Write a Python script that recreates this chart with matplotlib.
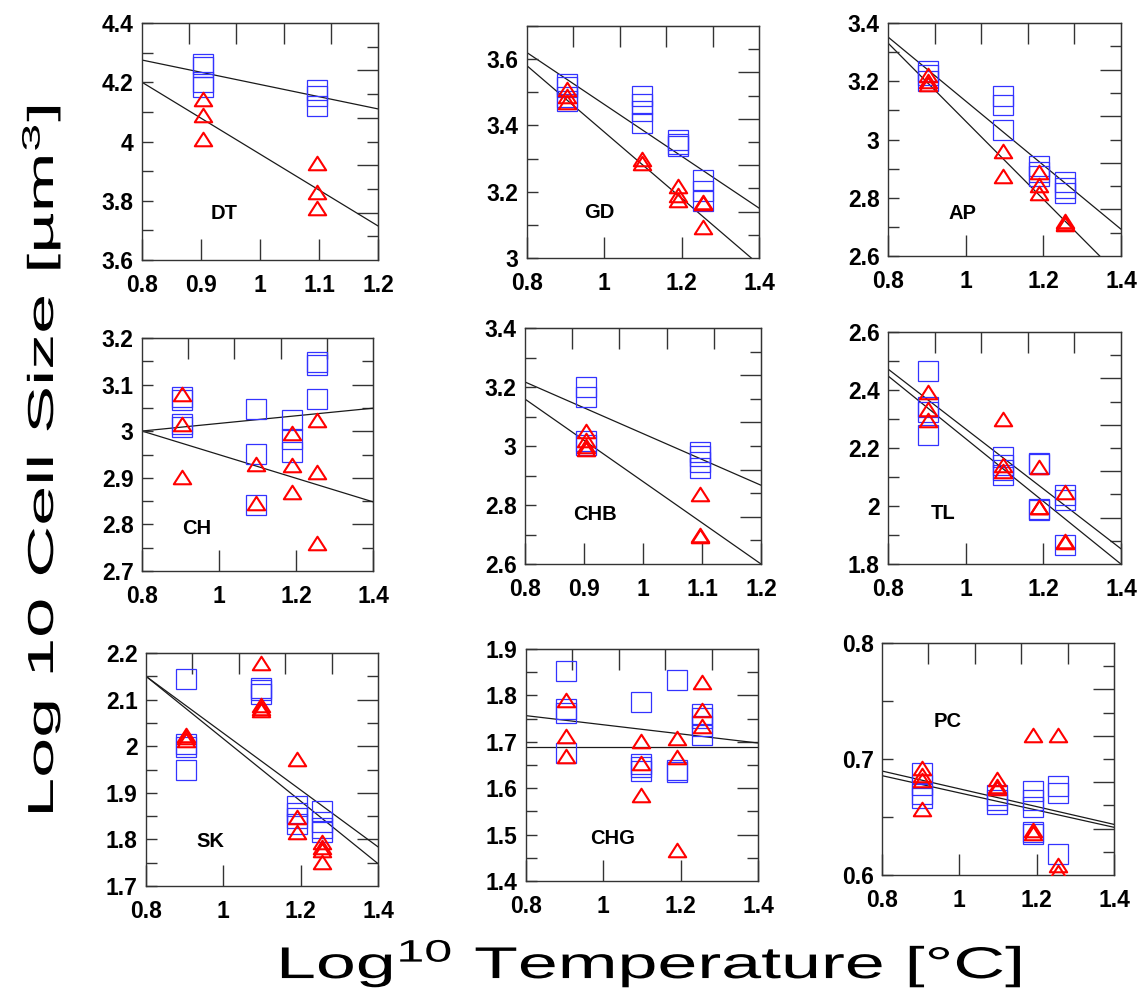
import numpy as np
import matplotlib
matplotlib.use('Agg')
import matplotlib.pyplot as plt
from matplotlib.path import Path
from matplotlib.transforms import Affine2D
from matplotlib.ticker import MultipleLocator, FuncFormatter
from matplotlib import patheffects

plt.rcParams['font.family'] = ['Liberation Sans', 'DejaVu Sans']
plt.rcParams['mathtext.default'] = 'regular'

# ---- data (x = log10 temperature) ----
x2 = [0.903, 1.097]
x4 = [0.903, 1.097, 1.19, 1.255]

dt_sq = [[4.26, 4.25, 4.2, 4.184], [4.175, 4.153, 4.119]]
dt_tri = [[4.142, 4.091, 4.007], [3.928, 3.829, 3.776]]
dt_fit = [(4.605, -0.4125), (5.17, -1.2125)]  # (intercept, slope)

gd_sq = [[3.526, 3.517, 3.487, 3.475], [3.49, 3.465, 3.445, 3.407],
         [3.357, 3.345, 3.337], [3.234, 3.201, 3.171]]
gd_tri = [[3.51, 3.49, 3.47], [3.30, 3.286], [3.216, 3.191, 3.176], [3.17, 3.165, 3.095]]
gd_fit = [(4.245, -0.7817), (4.38, -1.0)]

ap_sq = [[3.235, 3.22, 3.20], [3.15, 3.12, 3.033], [2.91, 2.89, 2.875], [2.855, 2.835, 2.815]]
ap_tri = [[3.22, 3.20, 3.19], [2.959, 2.873], [2.89, 2.845, 2.815], [2.72, 2.715, 2.71]]
ap_fit = [(4.232, -1.1), (4.404, -1.341)]

ch_sq = [[3.074, 3.068, 3.015, 3.01], [3.047, 2.951, 2.841], [3.025, 2.983, 2.955], [3.148, 3.141, 3.069]]
ch_tri = [[3.08, 3.016, 2.902], [2.93, 2.846], [2.996, 2.928, 2.869], [3.024, 2.913, 2.760]]
ch_fit = [(2.935, 0.0817), (3.203, -0.2533)]

chb_sq = [[3.199, 3.165, 3.016, 3.005], [2.979, 2.967, 2.945, 2.924]]
chb_tri = [[3.05, 3.02, 3.0, 2.99], [2.837, 2.70, 2.695]]
chb_fit = [(3.917, -0.875), (4.277, -1.3975)]

tl_sq = [[2.466, 2.34, 2.325, 2.245], [2.17, 2.14, 2.125, 2.107],
         [2.15, 2.145, 1.99, 1.985], [2.038, 2.02, 1.866]]
tl_tri = [[2.394, 2.333, 2.296], [2.299, 2.142, 2.119], [2.136, 1.998, 1.995], [2.05, 1.878, 1.875]]
tl_fit = [(3.299, -1.0333), (3.314, -1.0817)]

sk_sq = [[2.144, 2.005, 1.998, 1.95], [2.125, 2.12, 2.113],
         [1.871, 1.857, 1.845, 1.834], [1.861, 1.838, 1.825, 1.815]]
sk_tri = [[2.024, 2.019, 2.013], [2.178, 2.089, 2.082, 2.078],
          [1.972, 1.849, 1.815], [1.795, 1.784, 1.777, 1.752]]
sk_fit = [(2.638, -0.61), (2.686, -0.67)]

chg_sq = [[1.852, 1.77, 1.762, 1.676], [1.786, 1.652, 1.645, 1.637],
          [1.834, 1.64, 1.635], [1.76, 1.752, 1.735, 1.715]]
chg_tri = [[1.791, 1.713, 1.670], [1.702, 1.655, 1.586], [1.708, 1.668, 1.467], [1.829, 1.769, 1.735]]
chg_fit = [(1.835, -0.0983), (1.688, 0.0)]

pc_sq = [[0.688, 0.678, 0.67, 0.666], [0.669, 0.665, 0.661],
         [0.672, 0.665, 0.659, 0.637, 0.635], [0.677, 0.671, 0.618]]
pc_tri = [[0.692, 0.686, 0.682, 0.657], [0.683, 0.677, 0.675],
          [0.721, 0.639, 0.636], [0.721, 0.609, 0.603]]
pc_fit = [(0.751, -0.0767), (0.745, -0.0742)]

names = ['DT', 'GD', 'AP', 'CH', 'CHB', 'TL', 'SK', 'CHG', 'PC']
xs = [x2, x4, x4, x4, x2, x4, x4, x4, x4]
squares = [dt_sq, gd_sq, ap_sq, ch_sq, chb_sq, tl_sq, sk_sq, chg_sq, pc_sq]
triangles = [dt_tri, gd_tri, ap_tri, ch_tri, chb_tri, tl_tri, sk_tri, chg_tri, pc_tri]
fits = [dt_fit, gd_fit, ap_fit, ch_fit, chb_fit, tl_fit, sk_fit, chg_fit, pc_fit]

xlims = [(0.8, 1.2), (0.8, 1.4), (0.8, 1.4), (0.8, 1.4), (0.8, 1.2),
         (0.8, 1.4), (0.8, 1.4), (0.8, 1.4), (0.8, 1.4)]
ylims = [(3.6, 4.4), (3.0, 3.7), (2.6, 3.4), (2.7, 3.2), (2.6, 3.4),
         (1.8, 2.6), (1.7, 2.2), (1.4, 1.9), (0.6, 0.8)]
ysteps = [0.2, 0.2, 0.2, 0.1, 0.2, 0.2, 0.1, 0.1, 0.1]

# ---- layout (pixels: left, top, width, height) ----
W, H = 1137, 991
boxes = [(142, 23, 236, 237), (527, 26, 232, 232), (888, 23, 233, 233),
         (142, 338, 231, 233), (525, 328, 236, 236), (888, 332, 233, 232),
         (146, 653, 232, 233), (526, 649, 232, 232), (882, 643, 232, 232)]
label_pos = [(0.346, 0.197), (0.31, 0.194), (0.318, 0.183), (0.238, 0.182), (0.297, 0.209),
             (0.237, 0.219), (0.277, 0.189), (0.373, 0.184), (0.284, 0.66)]

BLUE = '#3333ff'
RED = '#ff0000'
EDGE = '#333333'
tri_marker = Path([(-1, -0.78), (1, -0.78), (0, 0.78), (-1, -0.78)], closed=True)


class Stretch(patheffects.AbstractPathEffect):
    """Stretch text along its baseline so it spans `length` pixels."""
    def __init__(self, length):
        super().__init__()
        self.length = length

    def draw_path(self, renderer, gc, tpath, affine, rgbFace=None):
        ext = tpath.get_extents()
        m = affine.get_matrix()
        scale = np.sqrt(abs(m[0, 0] * m[1, 1] - m[0, 1] * m[1, 0]))
        sx = self.length / (ext.width * scale)
        cx = (ext.x0 + ext.x1) / 2
        t = Affine2D().translate(-cx, 0).scale(sx, 1).translate(cx, 0) + affine
        renderer.draw_path(gc, tpath, t, rgbFace)


fmt = FuncFormatter(lambda v, p: f'{round(v, 3):g}')

fig = plt.figure(figsize=(W / 100, H / 100), dpi=100)

for i in range(9):
    l, t, w, h = boxes[i]
    ax = fig.add_axes([l / W, 1 - (t + h) / H, w / W, h / H])
    x0, x1 = xlims[i]
    y0, y1 = ylims[i]

    xx = np.array([x0, x1])
    for a, b in fits[i]:
        ax.plot(xx, a + b * xx, color='#1a1a1a', lw=0.9, zorder=1)

    for x, vals in zip(xs[i], squares[i]):
        ax.plot([x] * len(vals), vals, ls='none', marker='s', ms=14.5,
                mfc='none', mec=BLUE, mew=0.9, zorder=2)
    for x, vals in zip(xs[i], triangles[i]):
        ax.plot([x] * len(vals), vals, ls='none', marker=tri_marker, ms=12.5,
                mfc='none', mec=RED, mew=1.5, zorder=3)

    ax.set_xlim(x0, x1)
    ax.set_ylim(y0, y1)
    xstep = 0.1 if (x1 - x0) < 0.5 else 0.2
    ax.xaxis.set_major_locator(MultipleLocator(xstep))
    ax.yaxis.set_major_locator(MultipleLocator(ysteps[i]))
    ax.yaxis.set_minor_locator(MultipleLocator(ysteps[i] / 2))
    ax.xaxis.set_major_formatter(fmt)
    ax.yaxis.set_major_formatter(fmt)
    ax.tick_params(axis='x', direction='in', length=15, width=1, color=EDGE,
                   pad=10, top=False, labelsize=16.5)
    ax.tick_params(axis='y', which='both', direction='in', length=8, width=1,
                   color=EDGE, pad=6, right=False, labelsize=16.5)
    for lab in ax.get_xticklabels() + ax.get_yticklabels():
        lab.set_fontweight('bold')
    for sp in ax.spines.values():
        sp.set_color(EDGE)
        sp.set_linewidth(1.0)

    # top and right axes carry their own, unlabelled tick sets
    top = ax.secondary_xaxis('top')
    top.set_ticks(np.linspace(x0, x1, 6)[1:-1])
    top.tick_params(direction='in', length=15, width=1, color=EDGE,
                    labeltop=False, labelbottom=False)
    top.spines['top'].set_color(EDGE)
    right = ax.secondary_yaxis('right')
    yt = np.linspace(y0, y1, 11)[1:-1]
    right.set_ticks(yt[1::2])
    right.set_ticks(yt[0::2], minor=True)
    right.tick_params(which='major', direction='in', length=15, width=1, color=EDGE,
                      labelright=False, labelleft=False)
    right.tick_params(which='minor', direction='in', length=8, width=1, color=EDGE,
                      labelright=False, labelleft=False)
    right.spines['right'].set_color(EDGE)

    ax.text(label_pos[i][0], label_pos[i][1], names[i], transform=ax.transAxes,
            ha='center', va='center', fontsize=14.5, fontweight='bold')

fig.text(0.036, 0.536, 'Log 10 Cell Size [µm$^3$]', rotation=90, ha='center',
         va='center', fontsize=26, path_effects=[Stretch(705)])
fig.text(0.572, 0.013, 'Log$^{10}$ Temperature [°C]', ha='center', va='baseline',
         fontsize=32, path_effects=[Stretch(738)])

fig.savefig('out.png', dpi=100)
